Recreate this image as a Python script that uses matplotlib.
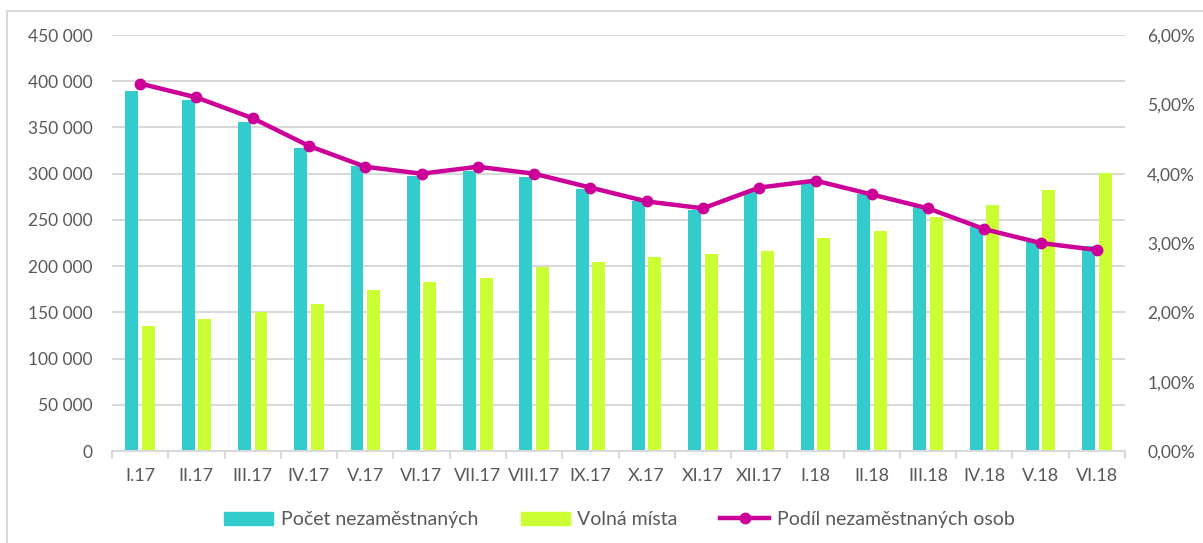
import numpy as np
import matplotlib.pyplot as plt
from matplotlib.patches import Rectangle
from matplotlib.lines import Line2D
from matplotlib.ticker import FuncFormatter, FixedLocator

plt.rcParams['font.family'] = ['Lato', 'DejaVu Sans']

months = ['I.17', 'II.17', 'III.17', 'IV.17', 'V.17', 'VI.17', 'VII.17', 'VIII.17',
          'IX.17', 'X.17', 'XI.17', 'XII.17', 'I.18', 'II.18', 'III.18', 'IV.18',
          'V.18', 'VI.18']
# pocet nezamestnanych
unemployed = [389700, 379700, 355900, 327400, 308600, 297500, 302900, 296000,
              283400, 270400, 260700, 280500, 290200, 277700, 264300, 242600,
              226400, 221800]
# volna mista
vacancies = [135200, 142800, 150700, 158700, 174200, 182800, 187500, 198700,
             204800, 209500, 213100, 216300, 230700, 238300, 252800, 266100,
             282600, 300400]
# podil nezamestnanych osob (%)
share = [5.3, 5.1, 4.8, 4.4, 4.1, 4.0, 4.1, 4.0, 3.8, 3.6, 3.5, 3.8, 3.9, 3.7,
         3.5, 3.2, 3.0, 2.9]

teal = '#33CCCC'
lime = '#CCFF33'
magenta = '#CC0099'
grey_txt = '#595959'
grid_c = '#D9D9D9'

fig = plt.figure(figsize=(12.03, 5.43), dpi=100)
ax = fig.add_axes([0.0931, 0.1694, 0.8421, 0.7661])
ax2 = ax.twinx()

x = np.arange(len(months))
w = 0.23
ax.bar(x - 0.147, unemployed, w, color=teal, zorder=2)
ax.bar(x + 0.147, vacancies, w, color=lime, zorder=2)

ax.set_xlim(-0.5, len(months) - 0.5)
ax.set_ylim(0, 450000)
ax.set_yticks(np.arange(0, 450001, 50000))
ax.yaxis.set_major_formatter(FuncFormatter(lambda v, p: '{:,.0f}'.format(v).replace(',', ' ')))
ax.grid(axis='y', color=grid_c, linewidth=1.5, zorder=0)
ax.set_axisbelow(True)

ax.set_xticks(x)
ax.set_xticklabels(months)
ax.xaxis.set_minor_locator(FixedLocator(np.arange(-0.5, len(months), 1)))
ax.tick_params(axis='x', which='major', length=0, pad=12, labelsize=13, labelcolor=grey_txt)
ax.tick_params(axis='x', which='minor', length=6, width=1.5, color=grid_c)
ax.tick_params(axis='y', length=0, pad=14, labelsize=12.5, labelcolor=grey_txt)

ax2.plot(x, share, color=magenta, linewidth=3.2, marker='o', markersize=7.5, zorder=3)
ax2.set_ylim(0, 6)
ax2.set_yticks(np.arange(0, 6.01, 1))
ax2.yaxis.set_major_formatter(FuncFormatter(lambda v, p: '{:.2f}%'.format(v).replace('.', ',')))
ax2.tick_params(axis='y', length=0, pad=16, labelsize=12.5, labelcolor=grey_txt)

for a in (ax, ax2):
    for s in ('top', 'left', 'right'):
        a.spines[s].set_visible(False)
ax.spines['bottom'].set_color(grid_c)
ax.spines['bottom'].set_linewidth(1.5)
ax2.spines['bottom'].set_visible(False)

handles = [Rectangle((0, 0), 1, 1, color=teal),
           Rectangle((0, 0), 1, 1, color=lime),
           Line2D([], [], color=magenta, linewidth=3.2, marker='o', markersize=7.5)]
labels = ['Počet nezaměstnaných', 'Volná místa', 'Podíl nezaměstnaných osob']
fig.legend(handles, labels, loc='center', bbox_to_anchor=(0.515, 0.043), ncol=3,
           frameon=False, fontsize=14, labelcolor=grey_txt, handlelength=2.5,
           handleheight=0.65, columnspacing=2.2, handletextpad=0.4)

# ramecek grafu
fig.patches.append(Rectangle((7 / 1203, -0.1), 1.2, 1 - 11 / 543 + 0.1, transform=fig.transFigure,
                             fill=False, edgecolor=grid_c, linewidth=1.5))

fig.savefig('out.png', dpi=100)
